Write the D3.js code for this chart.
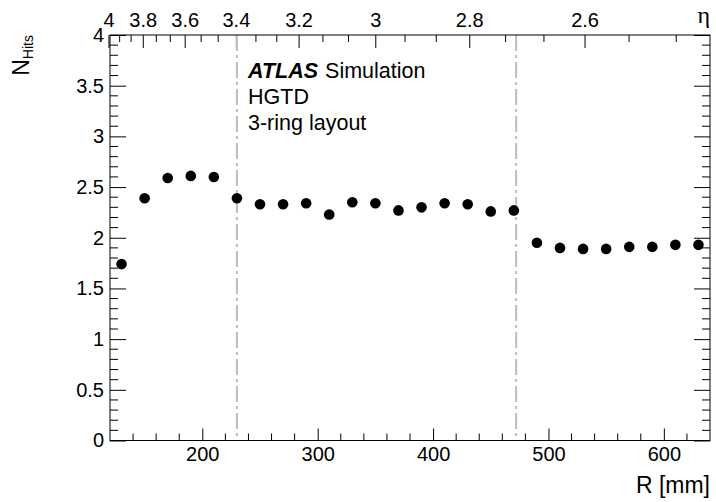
<!DOCTYPE html>
<html>
<head>
<meta charset="utf-8">
<script src="https://cdn.jsdelivr.net/npm/d3@7"></script>
<style>
  html, body { margin: 0; padding: 0; background: #fff; }
  svg { display: block; }
  text { font-family: "Liberation Sans", Arial, Helvetica, sans-serif; fill: #000; }
</style>
</head>
<body>
<svg id="chart" width="716" height="502"></svg>
<script>
// Average number of HGTD hits per track versus radius
const radii = [130, 150, 170, 190, 210, 230, 250, 270, 290, 310, 330, 350, 370,
               390, 410, 430, 450, 470, 490, 510, 530, 550, 570, 590, 610, 630];
const nHits = [1.74, 2.39, 2.59, 2.61, 2.60, 2.39, 2.33, 2.33, 2.34, 2.23, 2.35, 2.34, 2.27,
               2.30, 2.34, 2.33, 2.26, 2.27, 1.95, 1.90, 1.89, 1.89, 1.91, 1.91, 1.93, 1.93];
const ringBoundaries = [230, 472];
const xTickLabels = [200, 300, 400, 500, 600];
const yTickLabels = [0, 0.5, 1, 1.5, 2, 2.5, 3, 3.5, 4];
const etaTickLabels = [4, 3.8, 3.6, 3.4, 3.2, 3, 2.8, 2.6];
const textLines = ["HGTD", "3-ring layout"];

const W = 716, H = 502;
const m = { left: 110, right: 6, top: 35, bottom: 61.5 };
const svg = d3.select("#chart");

const x = d3.scaleLinear().domain([120, 640]).range([m.left, W - m.right]);
const y = d3.scaleLinear().domain([0, 4]).range([H - m.bottom, m.top]);
const x0 = x.range()[0], x1 = x.range()[1], y0 = y.range()[0], y1 = y.range()[1];

// radius at the HGTD face for a given pseudorapidity
const etaToR = eta => 3660 / Math.sinh(eta) - 15;

const fmt = d => String(d);

// bottom axis: R in mm
const xMinor = d3.range(140, 640, 20).filter(v => v % 100 !== 0);
const gx = svg.append("g").attr("transform", `translate(0,${y0})`);
gx.call(d3.axisBottom(x).tickValues(xTickLabels).tickSize(-12).tickPadding(6.5).tickFormat(fmt));
gx.select(".domain").remove();
gx.selectAll(".tick text").attr("font-size", 20).attr("font-family", "Liberation Sans, Arial, sans-serif");
gx.selectAll(".tick line").attr("stroke", "#000");
gx.append("g").selectAll("line").data(xMinor).join("line")
  .attr("x1", d => x(d)).attr("x2", d => x(d)).attr("y1", 0).attr("y2", -7)
  .attr("stroke", "#000");

// left and right axes: N hits
const yMinor = d3.range(0, 41).map(v => v / 10).filter(v => Math.abs(v * 2 - Math.round(v * 2)) > 1e-6);
const gy = svg.append("g").attr("transform", `translate(${x0},0)`);
gy.call(d3.axisLeft(y).tickValues(yTickLabels).tickSize(-16).tickPadding(6).tickFormat(fmt));
gy.select(".domain").remove();
gy.selectAll(".tick text").attr("font-size", 20).attr("font-family", "Liberation Sans, Arial, sans-serif");
gy.selectAll(".tick line").attr("stroke", "#000");
gy.append("g").selectAll("line").data(yMinor).join("line")
  .attr("y1", d => y(d)).attr("y2", d => y(d)).attr("x1", 0).attr("x2", 8)
  .attr("stroke", "#000");

const gyr = svg.append("g").attr("transform", `translate(${x1},0)`);
gyr.call(d3.axisRight(y).tickValues(yTickLabels).tickSize(-16).tickFormat(""));
gyr.select(".domain").remove();
gyr.selectAll(".tick line").attr("stroke", "#000");
gyr.append("g").selectAll("line").data(yMinor).join("line")
  .attr("y1", d => y(d)).attr("y2", d => y(d)).attr("x1", 0).attr("x2", -8)
  .attr("stroke", "#000");

// top axis: pseudorapidity
const etaMinor = d3.range(0, 30).map(i => 4 - i * 0.2 / 3)
  .filter(e => x(etaToR(e)) <= x1 + 0.5 && Math.abs(e * 5 - Math.round(e * 5)) > 1e-6);
const gt = svg.append("g");
gt.selectAll("line.major").data(etaTickLabels).join("line").attr("class", "major")
  .attr("x1", d => x(etaToR(d))).attr("x2", d => x(etaToR(d)))
  .attr("y1", y1).attr("y2", y1 + 13).attr("stroke", "#000");
gt.selectAll("line.minor").data(etaMinor).join("line").attr("class", "minor")
  .attr("x1", d => x(etaToR(d))).attr("x2", d => x(etaToR(d)))
  .attr("y1", y1).attr("y2", y1 + 7).attr("stroke", "#000");
gt.selectAll("text").data(etaTickLabels).join("text")
  .attr("x", d => x(etaToR(d))).attr("y", 27)
  .attr("text-anchor", "middle").attr("font-size", 20)
  .text(fmt);
svg.append("text").attr("x", x1).attr("y", 23).attr("text-anchor", "end")
  .attr("font-size", 24).style("font-family", "'Liberation Serif', 'DejaVu Serif', serif")
  .text("η");

// ring boundaries
svg.append("g").selectAll("line").data(ringBoundaries).join("line")
  .attr("x1", d => x(d)).attr("x2", d => x(d)).attr("y1", y1).attr("y2", y0)
  .attr("stroke", "#bdbdbd").attr("stroke-width", 2)
  .attr("stroke-dasharray", "16,4,3,4");

// frame
svg.append("rect").attr("x", x0).attr("y", y1).attr("width", x1 - x0).attr("height", y0 - y1)
  .attr("fill", "none").attr("stroke", "#000").attr("stroke-width", 1);

// markers
svg.append("g").selectAll("circle").data(radii).join("circle")
  .attr("cx", d => x(d)).attr("cy", (d, i) => y(nHits[i])).attr("r", 5.3)
  .attr("fill", "#000");

// axis titles
svg.append("text").attr("x", x1).attr("y", 493).attr("text-anchor", "end")
  .attr("font-size", 23).text("R [mm]");
const yt = svg.append("text").attr("transform", `translate(28.5,${y1}) rotate(-90)`)
  .attr("text-anchor", "end").attr("font-size", 23);
yt.append("tspan").text("N");
yt.append("tspan").attr("font-size", 14).attr("dy", 4).text("Hits");

// labels
const lab = svg.append("g").attr("font-size", 21.5);
const t0 = lab.append("text").attr("x", 248).attr("y", 78);
t0.append("tspan").attr("font-weight", "bold").attr("font-style", "italic").text("ATLAS");
t0.append("tspan").attr("dx", 7).text("Simulation");
lab.selectAll("text.l").data(textLines).join("text").attr("class", "l")
  .attr("x", 248).attr("y", (d, i) => 104 + i * 25.5).text(d => d);
</script>
</body>
</html>
